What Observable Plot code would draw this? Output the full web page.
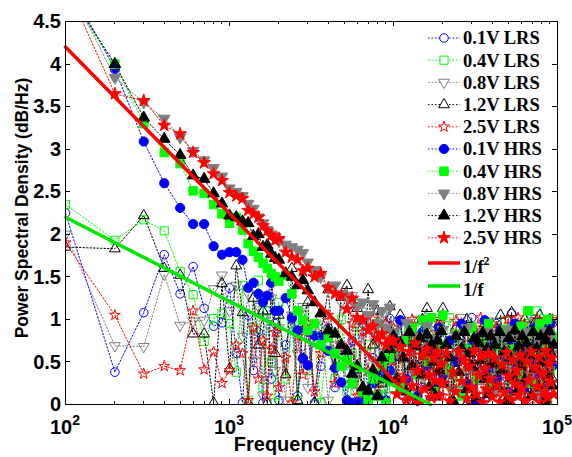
<!DOCTYPE html>
<html><head><meta charset="utf-8">
<script src="https://cdn.jsdelivr.net/npm/d3@7"></script>
<script src="https://cdn.jsdelivr.net/npm/@observablehq/plot@0.6"></script>
<style>body{margin:0;background:#fff}#chart{width:572px;height:457px}</style>
</head><body><div id="chart"></div>
<script>
// Frequency grid (Hz)
const freqs = [
  100,200,300,400,500,600,700,800,900,1000,
  1100,1200,1300,1400,1500,1600,1700,1800,1900,2000,
  2200,2400,2600,2800,3000,3300,3600,4000,4400,4800,
  5200,5600,6000,6500,7000,7500,8000,8500,9000,9500,
  10000,11000,12000,13000,14000,15000,16000,17000,18000,19000,
  20000,22000,24000,26000,28000,30000,32000,34000,36000,38000,
  40000,42500,45000,47500,50000,52500,55000,57500,60000,63000,
  66000,69000,72000,75000,78000,81000,84000,87000,90000,93000
];
// Denser high-frequency grid used by the two dominant HRS traces
const freqsHigh = [
  10000,10500,11000,11500,12000,12500,13000,13500,14000,14500,15000,15500,16000,16500,17000,17500,18000,18500,19000,19500,20000,
  21000,22000,23000,24000,25000,26000,27000,28000,29000,30000,31000,32000,33000,34000,35000,36000,37000,38000,39000,40000,
  41500,43000,44500,46000,47500,49000,50500,52000,53500,55000,56500,58000,59500,61000,
  63000,65000,67000,69000,71000,73000,75000,77000,79000,81000,83000,85000,87000,89000,91000,93000,95000
];
// Power spectral density values (dB/Hz)
const lrs01 = [
  2.25,0.38,1.08,1.76,1.30,1.62,1.13,0.92,0.96,1.37,
  0.60,0.02,1.05,0.40,0.85,0.02,1.10,0.30,0.95,0.05,
  0.70,1.00,0.10,0.55,0.85,0.02,0.45,0.90,0.20,0.65,
  0.02,0.75,0.35,0.95,0.10,0.55,0.80,0.25,0.60,1.01,
  0.30,0.75,0.05,0.90,0.45,0.20,0.80,0.55,0.95,0.10,
  0.65,0.40,0.88,0.15,0.70,1.02,0.35,0.60,0.05,0.85,
  0.50,0.95,0.25,0.75,0.45,1.07,0.10,0.65,0.90,0.30,
  0.80,0.55,1.00,0.20,0.70,0.40,0.95,0.15,0.85,0.95
];
const lrs04 = [
  2.35,1.93,2.17,2.04,1.56,1.29,0.74,1.01,1.07,0.95,
  0.38,1.40,0.05,0.90,1.46,0.20,1.10,0.50,0.02,1.20,
  0.30,0.95,0.05,1.05,0.40,0.75,0.02,0.85,0.30,1.00,
  0.15,0.60,0.92,0.05,0.70,0.35,0.95,0.10,0.55,0.85,
  0.20,0.90,0.45,0.05,0.75,1.00,0.30,0.65,0.10,0.85,
  0.50,1.02,0.25,0.70,0.40,0.92,0.05,0.80,0.55,0.15,
  0.88,0.35,0.60,0.98,0.20,0.72,0.45,0.90,0.10,0.65,
  0.95,0.30,0.75,1.10,0.40,0.85,0.55,0.05,0.92,1.00
];
const lrs08 = [
  2.00,0.69,0.68,1.53,0.93,0.98,0.99,1.36,1.52,1.10,
  1.40,0.80,1.30,0.52,1.15,0.10,0.95,1.25,0.40,0.90,
  0.05,1.05,0.60,1.15,0.20,0.85,1.00,0.05,0.70,1.20,
  0.40,1.28,0.15,0.95,1.05,0.30,0.80,1.05,0.10,0.90,
  0.55,0.95,0.15,0.70,1.00,0.35,0.85,0.05,0.60,0.95,
  0.25,0.80,0.45,1.02,0.10,0.72,0.92,0.20,0.65,0.98,
  0.40,0.85,0.15,0.70,1.00,0.30,0.75,0.95,0.50,0.05,
  0.80,1.02,0.35,0.90,0.60,0.15,0.85,0.95,0.25,0.75
];
const lrs12 = [
  1.85,1.83,2.22,1.60,1.52,0.83,0.83,0.02,1.42,0.42,
  1.63,1.08,0.02,1.25,0.70,1.10,0.02,1.45,0.60,1.05,
  0.35,1.60,0.05,0.95,1.20,0.02,0.80,1.35,0.45,1.26,
  1.40,0.30,1.13,0.05,1.35,0.70,1.10,0.25,0.95,1.15,
  0.65,1.05,0.20,0.85,0.45,1.00,1.13,0.10,0.75,0.95,
  1.13,0.30,0.90,0.55,1.00,0.05,0.80,0.40,0.95,0.65,
  0.15,0.90,1.05,0.35,0.75,1.08,0.20,0.85,0.50,1.00,
  0.10,0.70,0.95,0.40,1.05,0.25,0.80,0.60,1.00,0.30
];
const lrs25 = [
  1.90,1.05,0.36,0.45,0.40,1.10,0.41,0.62,0.25,0.40,
  0.70,0.60,0.05,0.90,0.30,0.75,0.10,0.65,0.85,0.20,
  0.55,0.02,0.80,0.35,0.95,0.15,0.60,1.05,0.25,0.70,
  0.50,0.95,0.10,0.85,0.40,1.00,0.20,0.75,0.95,0.45,
  0.90,0.30,0.80,1.00,0.15,0.70,0.95,0.40,0.85,1.00,
  0.10,0.75,0.98,0.45,0.90,0.20,0.85,1.02,0.35,0.80,
  0.95,0.25,0.90,0.55,1.00,0.15,0.85,1.02,0.40,0.95,
  0.65,0.05,0.90,1.00,0.30,0.85,0.98,0.50,0.90,1.00
];
const hrs01 = [
  5.00,3.94,3.09,2.60,2.31,2.12,2.12,1.86,1.76,1.79,
  1.79,1.70,1.37,1.43,1.30,1.20,1.28,1.43,1.10,1.10,
  1.25,1.02,0.87,0.54,0.46,0.81,0.79,0.63,0.43,0.26,
  0.05,0.02,0.03,0.02,0.05,0.25,0.10,0.35,0.05,0.40,
  0.55,0.99,0.30,0.70,0.10,0.85,0.45,0.65,0.20,0.90,
  0.35,0.75,0.50,0.95,0.25,0.68,0.05,0.80,0.99,0.40,
  0.70,0.30,0.88,0.55,0.15,0.75,0.95,0.45,0.62,0.20,
  0.85,0.50,0.90,0.35,0.70,0.92,0.10,0.65,0.95,0.45
];
const hrs04 = [
  4.85,4.00,3.30,2.96,2.83,2.51,2.48,2.35,2.24,2.13,
  2.20,2.05,1.89,1.80,1.73,1.66,1.60,1.54,1.50,1.45,
  1.52,1.30,1.10,0.99,0.87,0.95,0.70,0.79,0.60,0.45,
  0.52,0.25,0.44,0.15,0.05,0.30,0.10,0.45,0.02,0.55,
  0.60,0.20,0.75,0.90,0.35,0.99,0.50,1.02,0.15,0.70,
  1.05,0.40,0.83,0.10,0.65,0.90,0.30,0.75,0.55,0.95,
  0.20,0.70,0.45,0.88,0.05,0.65,0.80,0.35,0.92,0.50,
  1.10,0.25,0.85,0.60,0.95,0.15,0.72,1.00,0.40,0.80
];
const hrs08 = [
  5.00,3.84,3.55,3.36,3.14,2.98,2.87,2.78,2.68,2.54,
  2.50,2.45,2.36,2.30,2.20,2.13,2.05,2.00,1.97,1.92,
  1.88,1.85,1.82,1.78,1.67,1.58,1.50,1.37,1.40,1.30,
  1.28,1.22,1.15,1.20,1.05,1.18,0.95,1.10,0.90,1.14,
  0.85,0.55,0.96,0.40,0.80,0.65,0.92,0.30,0.78,0.55,
  0.88,0.20,0.82,0.60,0.90,0.45,0.75,0.35,0.86,0.55,
  0.80,0.15,0.78,0.60,0.88,0.40,0.82,0.25,0.75,0.55,
  0.85,0.35,0.80,0.10,0.72,0.50,0.86,0.40,0.78,0.60
];
// 1.2 V HRS: values on freqs[0..39], then on freqsHigh
const hrs12 = [
  4.90,4.00,3.37,3.12,2.93,2.69,2.65,2.48,2.36,2.22,
  2.20,2.15,2.13,1.98,2.00,1.85,1.87,1.77,1.72,1.70,
  1.54,1.50,1.40,1.46,1.34,1.20,1.07,0.87,0.83,0.70,
  0.63,0.36,0.45,0.20,0.16,0.40,0.10,0.55,0.30,0.65
];
const hrs12High = [
  0.80,0.30,0.72,0.55,0.15,0.85,0.45,0.68,0.05,0.78,0.35,0.62,0.82,0.20,0.70,0.50,0.10,0.75,0.40,0.86,0.25,
  0.70,0.55,0.05,0.80,0.38,0.66,0.85,0.18,0.60,0.45,0.78,0.08,0.72,0.52,0.84,0.30,0.65,0.12,0.80,0.48,
  0.70,0.22,0.85,0.40,0.62,0.05,0.78,0.55,0.32,0.87,0.15,0.68,0.45,0.80,
  0.28,0.72,0.58,0.10,0.85,0.42,0.66,0.20,0.80,0.50,0.05,0.75,0.35,0.86,0.60,0.22,0.70
];
// 2.5 V HRS: values on freqs[0..39], then on freqsHigh
const hrs25 = [
  4.95,3.65,3.57,3.28,3.18,2.96,2.84,2.71,2.63,2.49,
  2.45,2.42,2.28,2.24,2.20,2.10,2.04,1.99,1.93,1.95,
  1.79,1.73,1.70,1.57,1.60,1.50,1.54,1.37,1.30,1.28,
  1.12,1.25,1.02,0.99,0.87,0.92,0.78,0.83,0.70,0.76
];
const hrs25High = [
  0.75,0.12,0.68,0.30,0.05,0.62,0.22,0.72,0.40,0.02,0.58,0.18,0.65,0.35,0.08,0.55,0.28,0.62,0.10,0.48,0.25,
  0.60,0.04,0.38,0.15,0.62,0.27,0.52,0.07,0.45,0.20,0.63,0.12,0.34,0.57,0.02,0.42,0.18,0.60,0.30,0.09,
  0.55,0.22,0.03,0.47,0.14,0.61,0.33,0.06,0.52,0.24,0.40,0.11,0.58,0.19,
  0.04,0.50,0.28,0.62,0.10,0.44,0.21,0.56,0.02,0.36,0.15,0.63,0.08,0.48,0.26,0.55,0.12
];
// Fitted guide lines
const fitF2Freq = [100, 14000], fitF2Val = [4.2, 0];
const fitF1Freq = [100, 16800], fitF1Val = [2.2, 0];
// Axis ticks
const yTicks = [0,0.5,1,1.5,2,2.5,3,3.5,4,4.5];
const yTickLabels = ["0","0.5","1","1.5","2","2.5","3","3.5","4","4.5"];
const xMajor = [100,1000,10000,100000];
const xMajorExp = ["2","3","4","5"];

const triDown = {draw(ctx, size) {
  const y = -Math.sqrt(size / (Math.sqrt(3) * 3));
  ctx.moveTo(0, -y * 2); ctx.lineTo(-Math.sqrt(3) * y, y); ctx.lineTo(Math.sqrt(3) * y, y); ctx.closePath();
}};
const BLUE="#0000ff", GREEN="#00ff00", GRAY="#808080", BLACK="#000000", RED="#ff0000", FITGREEN="#00e600";
const lowMid = freqs.slice(0, 40);
const series = [
  {label:"0.1V LRS", f:freqs, values:lrs01, color:BLUE,  symbol:"circle",   filled:false, r:4.3},
  {label:"0.4V LRS", f:freqs, values:lrs04, color:GREEN, symbol:"square",   filled:false, r:4.6},
  {label:"0.8V LRS", f:freqs, values:lrs08, color:GRAY,  symbol:triDown,    filled:false, r:4.0},
  {label:"1.2V LRS", f:freqs, values:lrs12, color:BLACK, symbol:"triangle", filled:false, r:4.0},
  {label:"2.5V LRS", f:freqs, values:lrs25, color:RED,   symbol:"star",     filled:false, r:3.4},
  {label:"0.1V HRS", f:freqs, values:hrs01, color:BLUE,  symbol:"circle",   filled:true,  r:4.6},
  {label:"0.4V HRS", f:freqs, values:hrs04, color:GREEN, symbol:"square",   filled:true,  r:4.8},
  {label:"0.8V HRS", f:freqs, values:hrs08, color:GRAY,  symbol:triDown,    filled:true,  r:4.3},
  {label:"1.2V HRS", f:lowMid.concat(freqsHigh), values:hrs12.concat(hrs12High), color:BLACK, symbol:"triangle", filled:true, r:4.3},
  {label:"2.5V HRS", f:lowMid.concat(freqsHigh), values:hrs25.concat(hrs25High), color:RED,   symbol:"star",     filled:true, r:4.0}
];
const marks = [];
for (const s of series) {
  const d = s.f.map((f, i) => ({f, v: s.values[i]}));
  marks.push(Plot.line(d, {x:"f", y:"v", stroke:s.color, strokeWidth:1, strokeDasharray:"1.5,2", clip:true}));
  marks.push(Plot.dot(d, {x:"f", y:"v", symbol:s.symbol, r:s.r, stroke:s.color, fill:s.filled ? s.color : "none", strokeWidth:1, clip:true}));
}
const fit2 = fitF2Freq.map((f,i)=>({f, v:fitF2Val[i]}));
const fit1 = fitF1Freq.map((f,i)=>({f, v:fitF1Val[i]}));
marks.push(Plot.line(fit2, {x:"f", y:"v", stroke:RED, strokeWidth:3.5}));
marks.push(Plot.line(fit1, {x:"f", y:"v", stroke:FITGREEN, strokeWidth:3.5}));
marks.push(Plot.frame({stroke:"#000", strokeWidth:1}));

const plot = Plot.plot({
  width:572, height:457, marginLeft:65, marginRight:15, marginTop:21, marginBottom:53,
  x:{type:"log", domain:[100,100000], axis:null},
  y:{domain:[0,4.5], axis:null},
  style:{background:"#fff"},
  marks
});
document.getElementById("chart").appendChild(plot);

const svg = d3.select(plot);
const xs = plot.scale("x"), ys = plot.scale("y");
const X0 = xs.apply(100), X1 = xs.apply(100000), Y0 = ys.apply(0), Y1 = ys.apply(4.5);
const g = svg.append("g").attr("stroke","#000").attr("stroke-width",1);
for (const v of yTicks) {
  const yy = Math.round(ys.apply(v)) + 0.5;
  g.append("line").attr("x1",X0).attr("x2",X0+5).attr("y1",yy).attr("y2",yy);
  g.append("line").attr("x1",X1).attr("x2",X1-5).attr("y1",yy).attr("y2",yy);
}
for (let e = 2; e <= 5; e++) {
  for (let m = 1; m <= 9; m++) {
    const f = m * Math.pow(10, e);
    if (f > 100000) break;
    const xx = Math.round(xs.apply(f)) + 0.5;
    const len = m === 1 ? 5 : 3;
    g.append("line").attr("x1",xx).attr("x2",xx).attr("y1",Y0).attr("y2",Y0-len);
    g.append("line").attr("x1",xx).attr("x2",xx).attr("y1",Y1).attr("y2",Y1+len);
  }
}
const sans = "'Liberation Sans', Arial, Helvetica, sans-serif";
const serif = "'Liberation Serif', 'Times New Roman', Times, serif";
yTicks.forEach((v, i) => {
  svg.append("text").attr("x", X0 - 4).attr("y", ys.apply(v)).attr("dy","0.36em")
    .attr("text-anchor","end").attr("font-family",sans).attr("font-weight","bold").attr("font-size",20)
    .attr("fill","#000").text(yTickLabels[i]);
});
xMajor.forEach((f, i) => {
  const t = svg.append("text").attr("x", xs.apply(f)).attr("y", 434).attr("text-anchor","middle")
    .attr("font-family",sans).attr("font-weight","bold").attr("font-size",20).attr("fill","#000");
  t.append("tspan").text("10");
  t.append("tspan").attr("dy",-9).attr("font-size",14).text(xMajorExp[i]);
});
svg.append("text").attr("x",306).attr("y",451).attr("text-anchor","middle")
  .attr("font-family",sans).attr("font-weight","bold").attr("font-size",20).attr("fill","#000").text("Frequency (Hz)");
svg.append("text").attr("transform","translate(28,208) rotate(-90)").attr("text-anchor","middle")
  .attr("font-family",sans).attr("font-weight","bold").attr("font-size",17.5).attr("fill","#000").text("Power Spectral Density (dB/Hz)");
// legend
const lg = svg.append("g");
const LX0 = 428, LX1 = 460, LM = 444, LT = 463;
const symMap = {circle:d3.symbolCircle, square:d3.symbolSquare, triangle:d3.symbolTriangle, star:d3.symbolStar};
series.forEach((s, i) => {
  const yy = 38 + 22.2 * i;
  lg.append("line").attr("x1",LX0).attr("x2",LX1).attr("y1",yy).attr("y2",yy)
    .attr("stroke",s.color).attr("stroke-width",1).attr("stroke-dasharray","1.5,2");
  lg.append("path").attr("transform",`translate(${LM},${yy})`)
    .attr("d", d3.symbol(typeof s.symbol === "string" ? symMap[s.symbol] : s.symbol, Math.PI*s.r*s.r)())
    .attr("fill", s.filled ? s.color : "#fff").attr("stroke", s.color);
  lg.append("text").attr("x",LT).attr("y",yy).attr("dy","0.35em").attr("text-anchor","start")
    .attr("font-family",serif).attr("font-weight","bold").attr("font-size",18.5).attr("fill","#000").text(s.label);
});
[[263, RED, "1/f", "2"], [286, FITGREEN, "1/f", null]].forEach(([yy, c, t, sup]) => {
  lg.append("line").attr("x1",LX0).attr("x2",LX1).attr("y1",yy).attr("y2",yy).attr("stroke",c).attr("stroke-width",3.5);
  const tx = lg.append("text").attr("x",LT).attr("y",yy+4).attr("dy","0.35em").attr("text-anchor","start")
    .attr("font-family",serif).attr("font-weight","bold").attr("font-size",18.5).attr("fill","#000");
  tx.append("tspan").text(t);
  if (sup) tx.append("tspan").attr("dy",-8).attr("font-size",12).text(sup);
});
</script></body></html>
